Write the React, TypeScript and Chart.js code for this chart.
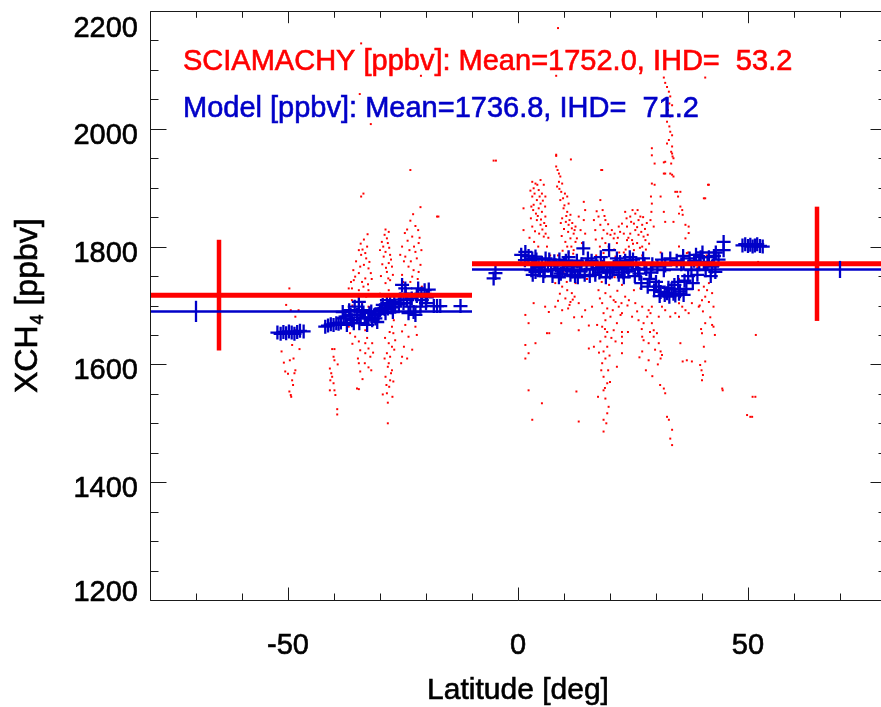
import React, { useEffect, useRef } from "react";
import { Chart, registerables } from "chart.js";
Chart.register(...registerables);

// ---------- axes ----------
const X_MIN = -80;
const X_MAX = 80;
const Y_MIN = 1200;
const Y_MAX = 2200;
const xMajorTicks = [-50, 0, 50];
const xMinorTicks = [-80, -70, -60, -40, -30, -20, -10, 10, 20, 30, 40, 60, 70, 80];
const yMajorTicks = [1200, 1400, 1600, 1800, 2000, 2200];
const yMinorTicks = [1250, 1300, 1350, 1450, 1500, 1550, 1650, 1700, 1750, 1850, 1900, 1950, 2050, 2100, 2150];

// ---------- summary statistics ----------
const hemiEdges = [-80, -10, 80];
const sciaMean = [1717.6, 1770.8];
const sciaStd = [94, 97];
const sciaBarLat = [-65, 65];
const modelMean = [1690, 1761.2];
const modelStd = [18, 14.5];
const modelBarLat = [-70, 70];

const sciaLabel = "SCIAMACHY [ppbv]: Mean=1752.0, IHD=  53.2";
const modelLabel = "Model [ppbv]: Mean=1736.8, IHD=  71.2";

// ---------- SCIAMACHY observations [lat, XCH4] ----------
const sciaSouth: number[][] = [
  [-49.7,1729],[-50.4,1701],[-49.4,1692],[-47.7,1692],[-48.4,1681],[-48.4,1658],[-49.1,1633],[-51.4,1622],[-47.5,1626],[-49.6,1607],[-48.8,1610],[-50.9,1603],[-50.6,1588],[-50.0,1584],[-48.4,1590],[-48.6,1585],[-49.1,1573],[-48.9,1565],[-49.7,1554],[-49.4,1548],[-49.3,1545],
  [-40.4,1626],[-39.9,1626],[-40.1,1613],[-39.9,1607],[-39.2,1600],[-40.9,1593],[-40.6,1585],[-40.4,1579],[-40.8,1573],[-40.1,1568],[-40.9,1556],[-39.9,1556],[-39.7,1548],[-39.3,1524],[-39.3,1515],
  [-32.7,1821],[-32.8,1800],[-33.8,1795],[-34.6,1794],[-33.2,1789],[-34.1,1786],[-32.3,1774],[-33.5,1769],[-34.3,1766],[-32.5,1763],[-34.6,1755],[-35.4,1749],[-33.2,1746],[-35.7,1743],[-33.9,1740],[-32.6,1736],[-36.8,1729],[-36.1,1729],[-34.6,1726],[-32.5,1726],[-35.4,1718],[-36.1,1709],[-33.9,1704],[-32.5,1698],[-35.0,1684],[-31.7,1675],[-36.8,1664],[-33.2,1658],[-36.5,1653],[-35.4,1647],[-34.6,1639],[-33.2,1636],[-31.7,1636],[-32.5,1627],[-34.3,1624],[-33.2,1619],[-32.1,1613],[-34.6,1602],[-33.3,1602],[-31.9,1590],[-34.3,1588],[-35.0,1559],[-34.6,1558],
  [-33.5,1812],[-34.2,1805],[-33.0,1780],[-35.2,1775],[-32.0,1755],[-36.3,1740],[-31.8,1745],[-33.6,1732],[-35.8,1760],[-34.8,1610],[-32.8,1645],[-31.5,1620],[-36.0,1635],[-33.8,1575],[-32.5,1595],
  [-28.8,1829],[-28.1,1825],[-29.0,1820],[-28.5,1814],[-29.6,1808],[-28.3,1806],[-30.0,1794],[-28.8,1791],[-27.8,1786],[-29.2,1783],[-28.1,1772],[-27.4,1766],[-28.5,1757],[-27.8,1743],[-28.8,1738],[-28.1,1726],[-27.4,1709],[-28.5,1692],[-27.0,1675],[-27.4,1664],[-27.1,1653],[-26.7,1641],[-28.1,1636],[-27.4,1630],[-28.5,1619],[-27.8,1613],[-28.1,1602],[-28.3,1596],[-27.4,1590],[-28.8,1579],[-27.8,1573],[-27.1,1571],[-28.0,1562],[-28.5,1551],[-29.4,1549],[-28.3,1535],[-28.3,1500],
  [-29.3,1800],[-28.0,1798],[-27.6,1778],[-29.5,1770],[-28.7,1764],[-27.2,1752],[-29.8,1750],[-28.2,1746],[-27.9,1655],[-28.9,1645],[-26.9,1625],[-29.0,1610],[-27.6,1585],[-28.6,1565],[-27.3,1545],
  [-21.2,1867],[-23.4,1844],[-22.3,1835],[-24.1,1829],[-21.7,1828],[-24.6,1823],[-23.0,1817],[-21.6,1806],[-25.2,1800],[-23.6,1794],[-22.3,1791],[-21.0,1794],[-25.6,1786],[-24.5,1783],[-22.0,1780],[-21.2,1769],[-23.8,1766],[-22.7,1760],[-21.6,1757],[-25.2,1752],[-23.0,1749],[-23.4,1740],[-20.9,1732],[-22.3,1715],[-24.5,1704],[-21.2,1692],[-22.3,1664],[-24.5,1667],[-25.2,1656],[-23.8,1647],[-25.2,1613],[-24.1,1610],[-25.4,1602],
  [-22.8,1855],[-24.0,1810],[-22.6,1800],[-21.4,1815],[-24.8,1775],[-23.3,1775],[-21.8,1745],[-25.0,1740],[-22.0,1650],[-24.8,1630],[-23.0,1625],
  [-17.6,1851],[-17.3,1851],[-34.4,2059],[-32.0,2008],[-23.4,1930],[-33.6,1890],[-34.1,1885],[-21.1,2090],[-34.1,2145],[-5.3,1946],[-4.8,1946],
  [-36,1700],[-33,1715],[-30,1720],[-27,1700],[-24,1720],[-21,1700],[-19,1720],
];

const sciaNorth: number[][] = [
  [1.2,1828],[1.6,1684],[2.3,1670],[1.6,1633],[3.8,1636],[2.3,1619],[1.6,1610],[2.3,1556],[3.1,1506],[5.2,1534],[1.2,1865],[3.4,1704],[5.9,1698],[6.7,1689],[6.8,1653],
  [3.1,1910],[3.8,1907],[4.9,1913],[5.6,1905],[3.4,1899],[4.5,1896],[5.2,1890],[5.95,1885],[3.1,1885],[4.1,1879],[4.9,1873],[3.4,1871],[4.5,1865],[5.2,1859],[2.9,1868],[3.9,1856],[5.95,1851],[4.9,1837],[5.6,1817],[6.3,1800],[4.1,1845],[3.1,1834],
  [2.7,1895],[3.6,1890],[4.2,1905],[4.7,1885],[5.4,1878],[5.9,1868],[3.3,1862],[4.3,1852],[5.0,1846],[5.7,1840],[2.8,1848],[3.7,1826],[4.6,1822],[5.3,1829],[6.1,1835],[2.5,1815],[3.5,1808],[4.4,1800],[6.6,1815],[6.0,1822],
  [8.3,1956],[8.3,1936],[8.9,1924],[9.2,1919],[8.9,1910],[9.6,1907],[8.5,1902],[9.4,1893],[10.2,1890],[10.7,1885],[9.2,1879],[11.0,1873],[9.9,1865],[10.7,1859],[11.4,1854],[9.6,1848],[10.4,1842],[11.0,1837],[11.7,1831],[10.9,1825],[12.1,1822],[11.4,1814],[12.5,1808],[10.7,1800],[12.1,1794],[11.0,1783],[8.9,1772],[9.9,1757],[11.4,1749],[8.1,1738],[9.6,1732],[10.7,1726],[11.7,1721],[10.3,1712],[11.4,1706],[11.2,1701],[12.3,1715],[8.3,2090],[8.7,2171],[11.5,1948],
  [8.6,1930],[9.0,1898],[9.8,1882],[10.1,1870],[10.5,1852],[11.2,1845],[9.3,1840],[10.0,1830],[11.8,1840],[12.3,1828],[9.5,1818],[10.3,1808],[11.6,1800],[12.0,1788],[9.7,1793],[8.7,1785],[10.6,1740],[9.1,1720],[11.9,1710],[10.9,1695],[8.7,1708],[12.2,1680],[9.4,1670],
  [14.3,1876],[14.6,1862],[13.2,1851],[14.3,1845],[12.5,1834],[13.6,1828],[14.6,1822],[12.8,1814],[13.9,1806],[12.5,1738],[13.2,1658],[15.4,1627],[12.7,1554],[13.2,1503],
  [18.1,1930],[17.9,1879],[18.4,1862],[17.5,1851],[19.0,1845],[17.9,1837],[18.6,1828],[19.4,1822],[18.3,1814],[20.1,1820],[20.8,1814],[19.0,1806],[19.7,1800],[20.4,1794],[18.6,1789],[21.2,1783],[21.9,1834],[22.6,1839],[21.5,1806],[16.5,1845],[16.8,1828],
  [17.1,1860],[18.8,1852],[19.6,1838],[20.4,1828],[21.0,1822],[21.7,1815],[22.2,1825],[16.9,1812],[17.8,1800],[20.9,1795],[22.0,1790],
  [17.5,1726],[19.0,1721],[20.1,1715],[18.3,1704],[19.4,1695],[18.6,1687],[20.1,1681],[19.0,1675],[18.3,1664],[19.4,1655],[20.8,1658],[19.0,1647],[17.9,1639],[19.4,1630],[18.6,1622],[19.0,1610],[18.3,1602],[19.6,1590],[18.6,1579],[19.4,1568],[18.6,1556],[19.0,1542],[19.7,1528],[19.4,1517],[18.6,1506],[18.6,1486],[17.2,1667],[16.5,1630],[15.4,1666],[22.3,1684],[22.5,1704],[22.6,1687],[21.9,1698],[21.2,1706],[21.5,1670],[22.6,1647],[22.6,1636],[20.8,1709],[21.2,1639],[21.5,1596],
  [18.2,1740],[19.8,1735],[21.6,1725],[17.8,1712],[20.6,1692],[18.9,1660],[20.3,1645],[17.6,1620],[19.9,1615],[18.1,1590],[20.0,1570],[18.9,1560],[17.4,1545],[19.2,1500],
  [23.3,1859],[24.9,1862],[25.5,1856],[24.4,1851],[26.2,1845],[25.2,1839],[23.7,1834],[27.0,1837],[25.5,1828],[24.4,1822],[26.2,1820],[27.3,1817],[24.8,1811],[25.9,1806],[27.0,1800],[24.1,1800],[27.7,1811],[25.2,1794],[23.0,1822],[23.7,1811],[26.6,1851],
  [23.6,1848],[24.6,1842],[25.9,1833],[26.8,1825],[27.6,1830],[28.2,1820],[24.0,1815],[25.0,1805],[26.5,1798],[27.8,1795],[28.5,1805],[23.4,1795],[26.0,1862],[27.2,1850],[28.0,1840],
  [24.1,1709],[25.5,1704],[27.0,1698],[28.4,1692],[24.8,1681],[26.2,1675],[27.3,1670],[28.1,1681],[28.8,1687],[29.1,1698],[29.5,1658],[30.2,1653],[27.0,1647],[27.3,1641],[28.4,1636],[29.5,1647],[30.6,1636],[31.0,1622],[31.3,1616],[31.0,1610],[27.0,1622],[28.4,1607],[23.3,1715],[22.6,1735],[25.2,1726],[26.6,1729],
  [23.8,1700],[25.9,1690],[26.9,1660],[28.7,1655],[29.8,1625],[30.4,1600],[26.4,1612],[27.8,1590],[29.2,1580],[30.9,1565],[23.9,1655],
  [31.7,2087],[32.0,2078],[32.4,2071],[32.8,2063],[33.1,2055],[32.9,2043],[33.5,2040],[32.6,2032],[33.1,2021],[32.4,2012],[32.9,2004],[33.1,1995],[33.5,1989],[32.8,1981],[32.4,1975],[33.5,1970],[33.3,1961],[33.6,1953],[33.3,1941],[33.1,1924],[33.5,1922],[33.8,1919],[29.1,1967],[29.1,1955],[29.7,1941],[31.7,1943],[32.0,1924],[34.6,1893],[35.3,1893],[41.5,1905],[40.7,2087],[8.3,1954],[18.3,1930],
  [33.5,1958],[33.8,1950],[31.7,1924],[32.0,1944],
  [29.1,1907],[29.7,1905],[28.9,1885],[29.1,1873],[29.0,1859],[28.8,1845],[29.5,1834],[31.0,1885],[31.7,1859],[32.0,1842],[33.8,1842],[34.2,1893],[34.8,1885],[35.3,1868],[35.7,1862],[35.0,1856],[35.8,1854],[36.4,1837],[37.1,1834],[41.3,1905],[40.7,1882],[40.4,1882],[36.7,1789],[35.0,1800],[36.4,1814],[37.1,1823],
  [31.7,1559],[32.0,1551],[32.4,1511],[32.8,1506],[33.5,1489],[33.1,1474],[33.5,1463],[35.0,1704],[35.7,1698],[36.4,1692],[37.1,1687],[37.8,1704],[39.3,1698],[40.0,1709],[40.7,1715],[41.5,1706],[42.5,1698],[42.2,1667],[40.7,1670],[40.0,1653],[40.4,1630],[40.7,1605],[39.6,1599],[39.9,1590],[40.2,1582],[40.0,1573],[42.5,1664],[41.5,1738],[40.4,1732],[39.3,1726],[41.1,1726],[42.2,1721],[44.4,1559],[44.5,1556],[35.8,1605],[36.7,1607],[35.3,1636],[37.8,1605],[51.7,1650],[51.0,1545],[51.6,1545],[49.8,1514],[50.5,1511],[50.9,1511],[52.2,1774],
  [22.6,1655],[22.6,1619],[34.2,1687],[35.0,1681],[32.0,1692],[33.1,1681],[31.3,1698],[29.1,1670],[30.6,1681],[6.3,1653],[13.2,1704],[14.6,1692],[16.1,1698],[13.9,1681],[8.1,1698],[9.6,1692],
  [39.5,1700],[40.2,1690],[41.8,1680],[42.8,1650],[39.8,1660],
  [2,1775],[5,1760],[7,1785],[9,1750],[11,1790],[13,1765],[15,1745],[17,1785],[19,1760],[21,1748],[23,1790],[25,1765],[27,1785],[29,1745],[31,1790],[33,1760],[35,1745],[37,1790],[39,1765],[41,1785],[43,1750],
];

// ---------- Model samples [lat, XCH4] ----------
const modelSouth: number[][] = [
  [-52.3,1654],[-51.6,1652],[-51.0,1655],[-50.4,1653],[-49.8,1656],[-49.2,1654],[-48.6,1652],[-48.0,1655],[-47.4,1657],[-46.6,1656],
  [-41.9,1664],[-41.3,1666],[-40.7,1668],[-40.1,1667],[-39.5,1670],[-39.0,1669],[-38.5,1671],
  [-38.1,1689],[-37.5,1681],[-36.7,1692],[-36.1,1675],[-35.5,1698],[-35.0,1684],[-34.5,1670],[-33.9,1692],[-33.3,1678],[-32.8,1667],[-32.3,1687],[-31.7,1675],[-31.2,1684],[-30.6,1672],[-37.2,1667],[-34.6,1706],
  [-37.9,1678],[-36.4,1684],[-35.7,1670],[-34.2,1680],[-33.6,1688],[-32.5,1680],[-31.9,1690],[-31.0,1678],[-30.3,1686],[-29.7,1695],[-29.0,1694],[-27.5,1697],[-26.9,1706],[-25.9,1702],[-25.5,1710],[-24.4,1720],[-23.1,1712],[-22.0,1716],[-21.0,1720],[-19.8,1714],
  [-30.0,1692],[-29.4,1701],[-28.8,1687],[-28.3,1695],[-27.8,1704],[-27.2,1689],[-26.7,1698],[-28.5,1709],
  [-25.2,1735],[-24.5,1729],[-24.1,1709],[-23.4,1698],[-22.7,1689],[-21.7,1729],[-21.2,1698],[-20.3,1726],[-20.0,1704],[-19.4,1727],[-22.3,1684],[-23.8,1687],[-24.9,1704],[-20.9,1709],
  [-18.3,1699],[-17.6,1699],[-16.9,1699],[-12.5,1699],
];

const modelNorth: number[][] = [
  [-5.3,1746],[-4.9,1755],
  [0.7,1786],[1.6,1791],[2.3,1784],[3.1,1780],[3.8,1783],[1.5,1777],[2.9,1760],[3.8,1757],
  [4.5,1765],[5.2,1772],[5.8,1758],[6.5,1768],[7.2,1760],[7.9,1775],[8.6,1762],[9.3,1754],[10.0,1770],[10.7,1760],[11.4,1752],[12.1,1766],[12.8,1776],[13.5,1758],[14.2,1797],[14.9,1768],[15.6,1750],[16.3,1762],[17.0,1772],[17.7,1756],[18.4,1766],[19.1,1748],[19.8,1794],[20.5,1760],[21.2,1770],[21.9,1752],[22.6,1764],[23.3,1776],[24.0,1758],[24.7,1768],[25.4,1750],[26.1,1762],[26.8,1738],[27.5,1770],[28.2,1732],[28.9,1756],[29.6,1726],[30.3,1766],[31.0,1723],[31.7,1760],[32.4,1721],[33.1,1780],[33.8,1720],[34.5,1776],[35.2,1724],[35.9,1784],[36.6,1728],[37.3,1780],[38.0,1738],[38.7,1786],[39.4,1770],[40.1,1790],[40.8,1760],[41.5,1782],[42.2,1766],[42.9,1757],[43.6,1778],
  [3.2,1752],[4.0,1778],[6.0,1780],[7.5,1750],[9.0,1778],[11.0,1782],[13.0,1748],[15.2,1780],[16.8,1752],[18.0,1782],[20.0,1756],[21.5,1780],[23.0,1748],[24.3,1782],[25.7,1772],[27.2,1780],[28.6,1745],[30.0,1740],[31.3,1778],[32.7,1730],[34.0,1735],[35.5,1770],[36.2,1742],[37.7,1760],[39.0,1752],[40.4,1774],[41.9,1750],[43.0,1790],
  [3.5,1770],[4.8,1760],[5.5,1750],[6.8,1778],[8.2,1768],[8.9,1748],[9.7,1762],[10.4,1776],[11.7,1758],[12.4,1750],[13.8,1770],[14.5,1752],[16.0,1776],[17.3,1764],[18.7,1772],[19.4,1758],[20.8,1766],[22.2,1774],[22.9,1756],[23.7,1766],[25.0,1778],[26.4,1754],[27.9,1762],[29.2,1770],[30.6,1732],[32.0,1768],[33.4,1728],[34.8,1740],[36.0,1772],[37.0,1750],[38.3,1776],[39.7,1782],[41.2,1772],[42.6,1784],
  [30.8,1716],[31.9,1718],[32.9,1715],[34.2,1717],[35.0,1720],[36.0,1718],
  [44.7,1808],[44.7,1794],
  [48.8,1802],[49.4,1804],[50.0,1801],[50.5,1803],[51.0,1800],[51.5,1802],[52.0,1804],[52.6,1801],[53.2,1800],
];

const RED = "#ff0000";
const BLUE = "rgb(0,0,200)";
const FONT = '"Liberation Sans", Arial, Helvetica, sans-serif';

const toXY = (arr: number[][]) => arr.map((p) => ({ x: p[0], y: p[1] }));
const seg = (x0: number, y0: number, x1: number, y1: number) => [
  { x: x0, y: y0 },
  { x: x1, y: y1 },
];

const heavyText = (ctx: any, text: string, x: number, y: number, color: string) => {
  ctx.fillStyle = color;
  ctx.strokeStyle = color;
  ctx.lineWidth = 0.6;
  ctx.fillText(text, x, y);
  ctx.strokeText(text, x, y);
};

const idlFrame = {
  id: "idlFrame",
  afterDatasetsDraw(chart: any) {
    const { ctx, chartArea: a, scales } = chart;
    const xs = scales.x;
    const ys = scales.y;
    ctx.save();
    ctx.strokeStyle = "#1a1a1a";
    ctx.lineWidth = 1;
    ctx.beginPath();
    ctx.rect(a.left + 0.5, a.top + 0.5, a.right - a.left, a.bottom - a.top);
    ctx.stroke();

    const tickX = (v: number, len: number) => {
      const px = Math.round(xs.getPixelForValue(v)) + 0.5;
      ctx.moveTo(px, a.bottom + 0.5);
      ctx.lineTo(px, a.bottom + 0.5 - len);
      ctx.moveTo(px, a.top + 0.5);
      ctx.lineTo(px, a.top + 0.5 + len * 0.9);
    };
    const tickY = (v: number, len: number) => {
      const py = Math.round(ys.getPixelForValue(v)) + 0.5;
      ctx.moveTo(a.left + 0.5, py);
      ctx.lineTo(a.left + 0.5 + len, py);
      ctx.moveTo(a.right + 0.5, py);
      ctx.lineTo(a.right + 0.5 - len, py);
    };
    ctx.beginPath();
    xMajorTicks.forEach((v) => tickX(v, 13));
    xMinorTicks.forEach((v) => tickX(v, 7));
    yMajorTicks.forEach((v) => tickY(v, 16));
    yMinorTicks.forEach((v) => tickY(v, 8));
    ctx.stroke();

    // tick labels
    ctx.font = `29px ${FONT}`;
    ctx.textAlign = "center";
    ctx.textBaseline = "alphabetic";
    xMajorTicks.forEach((v) => {
      heavyText(ctx, String(v), xs.getPixelForValue(v), a.bottom + 54, "#000");
    });
    ctx.textAlign = "right";
    yMajorTicks.forEach((v) => {
      const py = ys.getPixelForValue(v);
      let base = py + 15;
      base = Math.max(base, a.top + 26);
      base = Math.min(base, a.bottom + 1);
      heavyText(ctx, String(v), a.left - 12, base, "#000");
    });

    // axis titles
    ctx.textAlign = "center";
    ctx.font = `30px ${FONT}`;
    heavyText(ctx, "Latitude [deg]", xs.getPixelForValue(0), 699, "#000");

    ctx.save();
    ctx.translate(37, 393);
    ctx.rotate(-Math.PI / 2);
    ctx.textAlign = "left";
    ctx.font = `32px ${FONT}`;
    const w1 = ctx.measureText("XCH").width;
    heavyText(ctx, "XCH", 0, 0, "#000");
    ctx.font = `18px ${FONT}`;
    const w2 = ctx.measureText("4").width;
    heavyText(ctx, "4", w1 + 1, 6, "#000");
    ctx.font = `32px ${FONT}`;
    heavyText(ctx, " [ppbv]", w1 + w2 + 1, 0, "#000");
    ctx.restore();

    // annotations
    ctx.textAlign = "left";
    ctx.font = `29px ${FONT}`;
    heavyText(ctx, sciaLabel, a.left + 33, 70, RED);
    heavyText(ctx, modelLabel, a.left + 33, 117, BLUE);
    ctx.restore();
  },
};

export default function App() {
  const ref = useRef<HTMLCanvasElement | null>(null);
  useEffect(() => {
    if (!ref.current) return;
    const lineDs = (data: any[], color: string, width: number, order: number) => ({
      type: "scatter" as const,
      data,
      showLine: true,
      borderColor: color,
      backgroundColor: color,
      borderWidth: width,
      borderCapStyle: "butt",
      pointRadius: 0,
      order,
    });
    const datasets: any[] = [
      {
        label: "SCIAMACHY",
        data: toXY([...sciaSouth, ...sciaNorth]),
        pointStyle: "rect",
        pointRadius: 1.4,
        pointBorderWidth: 0,
        backgroundColor: RED,
        borderColor: RED,
        borderWidth: 0,
        order: 10,
      },
      {
        label: "Model",
        data: toXY([...modelSouth, ...modelNorth]),
        pointStyle: "cross",
        pointRadius: 7,
        pointBorderWidth: 2.3,
        borderColor: BLUE,
        backgroundColor: BLUE,
        order: 9,
      },
    ];
    for (let i = 0; i < 2; i++) {
      datasets.push(lineDs(seg(hemiEdges[i], sciaMean[i], hemiEdges[i + 1], sciaMean[i]), RED, 5, 4));
      datasets.push(lineDs(seg(sciaBarLat[i], sciaMean[i] - sciaStd[i], sciaBarLat[i], sciaMean[i] + sciaStd[i]), RED, 4.5, 4));
      datasets.push(lineDs(seg(hemiEdges[i], modelMean[i], hemiEdges[i + 1], modelMean[i]), BLUE, 2.5, 2));
      datasets.push(lineDs(seg(modelBarLat[i], modelMean[i] - modelStd[i], modelBarLat[i], modelMean[i] + modelStd[i]), BLUE, 2.3, 2));
    }
    const chart = new Chart(ref.current, {
      type: "scatter",
      data: { datasets },
      options: {
        responsive: false,
        animation: false,
        events: [],
        layout: { padding: { left: 150, top: 11, right: 14, bottom: 107 }, autoPadding: false },
        plugins: { legend: { display: false }, tooltip: { enabled: false } },
        scales: {
          x: { type: "linear", min: X_MIN, max: X_MAX, display: false },
          y: { type: "linear", min: Y_MIN, max: Y_MAX, display: false },
        },
      } as any,
      plugins: [idlFrame],
    });
    return () => chart.destroy();
  }, []);
  return (
    <div style={{ position: "fixed", left: 0, top: 0, width: 881, height: 707, overflow: "hidden", background: "#fff" }}>
      <canvas ref={ref} width={900} height={707} style={{ display: "block", width: 900, height: 707 }} />
    </div>
  );
}
